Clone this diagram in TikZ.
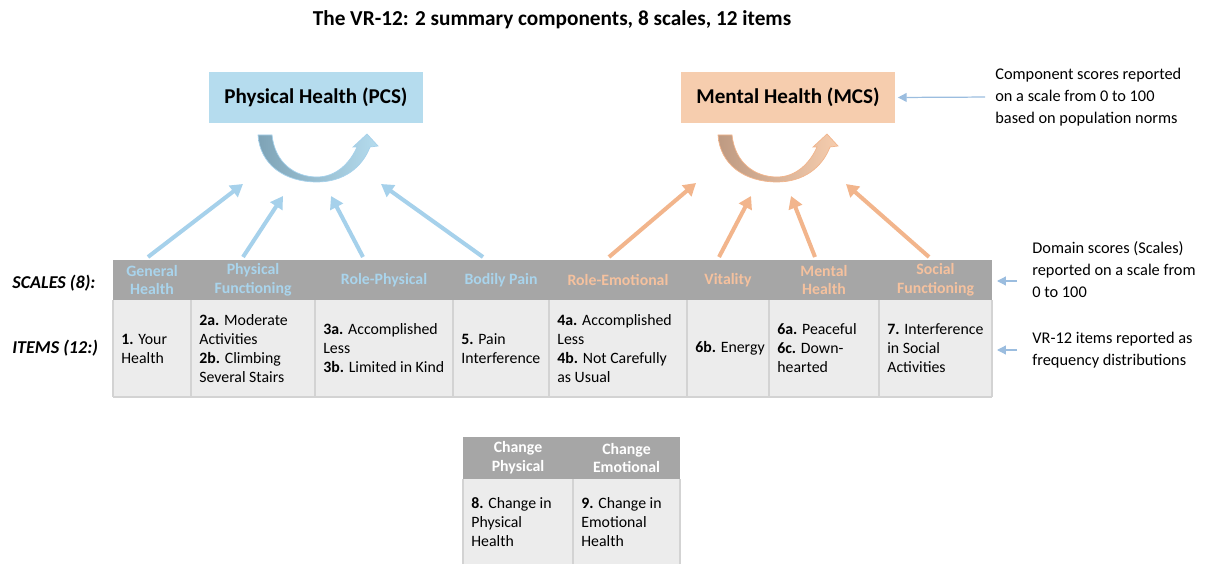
\documentclass[tikz,border=0pt]{standalone}
\usepackage{fontspec}
\setmainfont{Carlito}
\usetikzlibrary{arrows.meta,positioning}
\definecolor{pcsFill}{HTML}{B5DCEE}
\definecolor{pcsArrow}{HTML}{A6D1EB}
\definecolor{pcsDark}{HTML}{7EA3B6}
\definecolor{pcsText}{HTML}{A9D4EC}
\definecolor{mcsFill}{HTML}{F6CDAE}
\definecolor{mcsArrow}{HTML}{F2B58C}
\definecolor{mcsDark}{HTML}{BE9A82}
\definecolor{mcsText}{HTML}{F5C19E}
\definecolor{headGrey}{HTML}{A6A6A6}
\definecolor{cellGrey}{HTML}{ECECEC}
\definecolor{ruleGrey}{HTML}{D3D3D3}
\definecolor{noteBlue}{HTML}{9BBDDF}

\begin{document}
\begin{tikzpicture}[x=0.02cm,y=-0.02cm,
    every node/.style={inner sep=0pt,font=\fontsize{9}{10.8}\selectfont},
    compbox/.style={minimum width=4.28cm,minimum height=1.02cm,
      font=\fontsize{12}{14}\selectfont\bfseries},
    feed/.style={line width=2.3pt,-{Triangle[length=7pt,width=8pt]}},
    notetxt/.style={anchor=west,align=left,font=\fontsize{9.3}{12.5}\selectfont},
    notearrow/.style={noteBlue,line width=0.7pt,-{Triangle[length=5pt,width=5pt]}},
    headtxt/.style={align=center,font=\fontsize{9}{10.8}\selectfont\bfseries},
    celltxt/.style={anchor=west,align=left},
    rowlabel/.style={anchor=west,font=\fontsize{10.3}{11}\selectfont\bfseries\itshape}]
  \useasboundingbox (0,0) rectangle (1220,564);

  % title and component boxes
  \node[font=\fontsize{12.1}{14}\selectfont\bfseries] (title) at (552,20)
    {The VR-12: 2 summary components, 8 scales, 12 items};
  \node[compbox,fill=pcsFill] (pcs) at (316,97.5) {Physical Health (PCS)};
  \node[compbox,fill=mcsFill] (mcs) at (788,97.5) {Mental Health (MCS)};

  % curved summary arrows
  \foreach \dx/\cd/\cl/\co in {0/pcsDark/pcsFill/pcsArrow,460/mcsDark/mcsFill/mcsArrow}{%
    \shade[shift={(\dx,0)},left color=\cd,right color=\cl,draw=\co,line width=0.4pt]
      (258,135) .. controls (260,165) and (285,182) .. (317,182)
      .. controls (343,182) and (362,168) .. (370,147) -- (378,146) -- (367,134)
      -- (353,147) -- (357,147) .. controls (350,163) and (336,177) .. (317,177)
      .. controls (295,177) and (275,163) .. (272,135) -- cycle;
  }

  % scales table
  \fill[headGrey] (113,260) rectangle (992,300);
  \fill[cellGrey] (113,300) rectangle (992,397);
  \draw[ruleGrey,line width=0.6pt] (113,397) -- (992,397);
  \foreach \n/\xa/\xb/\col/\head/\item in {%
    1/113/191/pcsText/{General\\Health}/{\textbf{1.} Your\\Health},
    2/191/315/pcsText/{Physical\\Functioning}/{\textbf{2a.} Moderate\\Activities\\\textbf{2b.} Climbing\\Several Stairs},
    3/315/453/pcsText/{Role-Physical}/{\textbf{3a.} Accomplished\\Less\\\textbf{3b.} Limited in Kind},
    4/453/549/pcsText/{Bodily Pain}/{\textbf{5.} Pain\\Interference},
    5/549/687/mcsText/{Role-Emotional}/{\textbf{4a.} Accomplished\\Less\\\textbf{4b.} Not Carefully\\as Usual},
    6/687/769/mcsText/{Vitality}/{\textbf{6b.} Energy},
    7/769/879/mcsText/{Mental\\Health}/{\textbf{6a.} Peaceful\\\textbf{6c.} Down-\\hearted},
    8/879/992/mcsText/{Social\\Functioning}/{\textbf{7.} Interference\\in Social\\Activities}}{%
    \draw[ruleGrey,line width=0.8pt] (\xa,300) -- (\xa,397);
    \node[headtxt,text=\col] (h\n) at ({(\xa+\xb)/2},280) {\head};
    \node[celltxt] (c\n) at (\xa+8,348.5) {\item};
  }
  \draw[ruleGrey,line width=0.8pt] (992,300) -- (992,397);
  \node[rowlabel] (scales) at (12,283) {SCALES (8):};
  \node[rowlabel] (items) at (12,348) {ITEMS (12:)};

  % scale to component arrows
  \foreach \n/\xs/\xe/\ye in {1/148/243/184,2/243/283/196,3/363/331/196,4/483/381/184}{%
    \coordinate (ps\n) at (\xs,257);
    \coordinate (pe\n) at (\xe,\ye);
    \draw[feed,pcsArrow] (ps\n) -- (pe\n);
  }
  \foreach \n/\xs/\xe/\ye in {1/609/696/183,2/719/751/196,3/815/791/196,4/929/846/184}{%
    \coordinate (ms\n) at (\xs,257);
    \coordinate (me\n) at (\xe,\ye);
    \draw[feed,mcsArrow] (ms\n) -- (me\n);
  }

  % change items table
  \fill[headGrey] (463,437) rectangle (680,479);
  \fill[cellGrey] (463,479) rectangle (680,564);
  \foreach \n/\xa/\xb/\head/\item in {%
    1/463/573/{Change\\Physical}/{\textbf{8.} Change in\\Physical\\Health},
    2/573/680/{Change\\Emotional}/{\textbf{9.} Change in\\Emotional\\Health}}{%
    \draw[ruleGrey,line width=0.8pt] (\xa,479) -- (\xa,564);
    \node[headtxt,text=white] (ch\n) at ({(\xa+\xb)/2},458) {\head};
    \node[celltxt,anchor=north west] (cc\n) at (\xa+8,497) {\item};
  }
  \draw[ruleGrey,line width=0.8pt] (680,479) -- (680,564);

  % notes on the right
  \node[notetxt] (noteA) at (995,97)
    {Component scores reported\\on a scale from 0 to 100\\based on population norms};
  \node[notetxt] (noteB) at (1032,270)
    {Domain scores (Scales)\\reported on a scale from\\0 to 100};
  \node[notetxt] (noteC) at (1032,350)
    {VR-12 items reported as\\frequency distributions};
  \coordinate (hdrEnd) at (997,281);
  \coordinate (rowEnd) at (997,350);
  \draw[notearrow,shorten <=0.2cm,shorten >=0.05cm] (noteA.west) -- (mcs.east);
  \draw[notearrow,shorten <=0.3cm] (noteB.west |- hdrEnd) -- (hdrEnd);
  \draw[notearrow,shorten <=0.3cm] (noteC.west |- rowEnd) -- (rowEnd);
\end{tikzpicture}
\end{document}
